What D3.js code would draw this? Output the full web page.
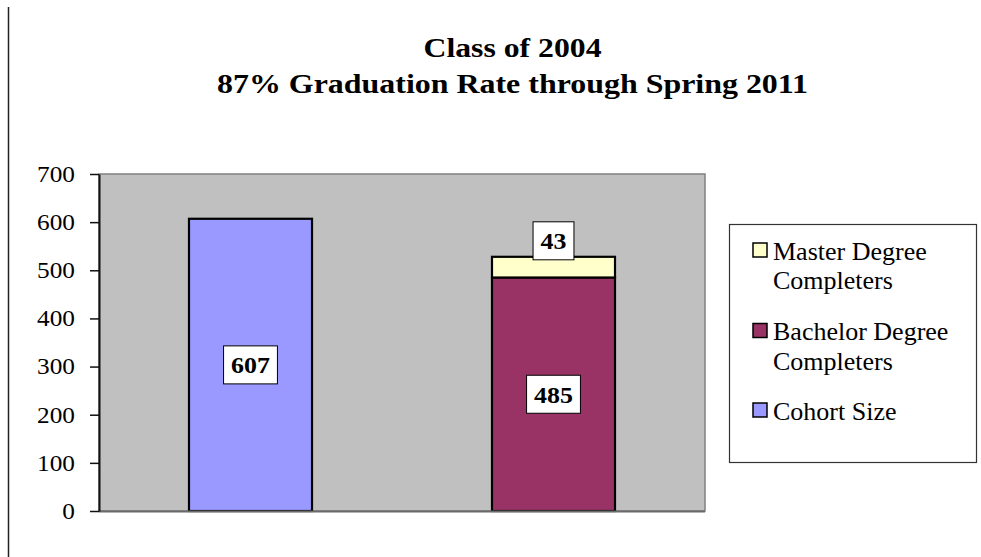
<!DOCTYPE html>
<html>
<head>
<meta charset="utf-8">
<script src="https://cdn.jsdelivr.net/npm/d3@7"></script>
<style>
  html, body { margin: 0; padding: 0; background: #ffffff; }
  svg { display: block; }
  svg text { font-family: "Liberation Serif", "Times New Roman", serif; }
</style>
</head>
<body>
<svg id="chart" width="981" height="557"></svg>
<script>
// ---- data ----
const titleLines = ["Class of 2004", "87% Graduation Rate through Spring 2011"];
const categories = ["Cohort", "Completers"];
const cohortSize = [607, 0];
const bachelorCompleters = [0, 485];
const masterCompleters = [0, 43];
const seriesKeys = ["cohort", "bachelor", "master"];
const seriesNames = ["Cohort Size", "Bachelor Degree Completers", "Master Degree Completers"];
const seriesColors = ["#9999FF", "#993366", "#FFFFCC"];
const legendOrder = ["master", "bachelor", "cohort"];
const legendLines = {
  master: ["Master Degree", "Completers"],
  bachelor: ["Bachelor Degree", "Completers"],
  cohort: ["Cohort Size"]
};
const yTicks = [0, 100, 200, 300, 400, 500, 600, 700];

// ---- build table ----
const table = categories.map((c, i) => ({
  category: c,
  cohort: cohortSize[i],
  bachelor: bachelorCompleters[i],
  master: masterCompleters[i]
}));

const svg = d3.select("#chart");
const serif = "Liberation Serif";

// frame line on the left
svg.append("line")
  .attr("x1", 8.5).attr("x2", 8.5).attr("y1", 7).attr("y2", 557)
  .attr("stroke", "#222").attr("stroke-width", 1.5);

// plot area
const plot = { left: 99, right: 705, top: 174, bottom: 511 };
const x = d3.scaleBand().domain(categories).range([plot.left, plot.right]).padding(0);
const y = d3.scaleLinear().domain([0, 700]).range([plot.bottom, plot.top]);
const barFrac = 0.406;

svg.append("rect")
  .attr("x", plot.left).attr("y", plot.top)
  .attr("width", plot.right - plot.left).attr("height", plot.bottom - plot.top)
  .attr("fill", "#C0C0C0").attr("stroke", "#808080").attr("stroke-width", 1.5);

// stacked series
const stack = d3.stack().keys(seriesKeys);
const stacked = stack(table);
const colorOf = d3.scaleOrdinal().domain(seriesKeys).range(seriesColors);

const bw = x.bandwidth() * barFrac;
const layers = svg.append("g").selectAll("g").data(stacked).join("g")
  .attr("fill", d => colorOf(d.key));
layers.selectAll("rect")
  .data(d => d.filter(p => p[1] - p[0] > 0).map(p => ({ p, key: d.key })))
  .join("rect")
  .attr("x", d => x(d.p.data.category) + (x.bandwidth() - bw) / 2)
  .attr("width", bw)
  .attr("y", d => y(d.p[1]))
  .attr("height", d => y(d.p[0]) - y(d.p[1]))
  .attr("stroke", "#000").attr("stroke-width", 2.2);

// x axis baseline
svg.append("line")
  .attr("x1", plot.left).attr("x2", plot.right)
  .attr("y1", plot.bottom + 0.5).attr("y2", plot.bottom + 0.5)
  .attr("stroke", "#6a6a6a").attr("stroke-width", 1.8);

// y axis
const yAxis = svg.append("g")
  .attr("transform", `translate(${plot.left},0)`)
  .call(d3.axisLeft(y).tickValues(yTicks).tickSize(9).tickPadding(15).tickSizeOuter(0));
yAxis.attr("font-family", null).attr("font-size", null);
yAxis.select(".domain").attr("stroke", "#111").attr("stroke-width", 2);
yAxis.selectAll(".tick line").attr("stroke", "#111").attr("stroke-width", 1.5);
yAxis.selectAll(".tick text")
  .style("font-family", serif).style("font-size", "23px").attr("fill", "#000")
  .each(function () {
    const t = d3.select(this);
    const tx = +t.attr("x");
    t.attr("x", 0).attr("transform", `translate(${tx},0) scale(1.1,1)`);
  });

// data labels
const labelData = [];
stacked.forEach(layer => {
  layer.forEach(p => {
    const v = p[1] - p[0];
    if (v > 0) labelData.push({ key: layer.key, value: v, p });
  });
});
const labels = svg.append("g").selectAll("g").data(labelData).join("g")
  .attr("transform", d => {
    const cx = x(d.p.data.category) + x.bandwidth() / 2;
    let cy = (y(d.p[0]) + y(d.p[1])) / 2;
    if (d.key === "master") cy = y(d.p[1]) - 16;
    return `translate(${cx},${cy})`;
  });
labels.append("text")
  .attr("text-anchor", "middle").attr("dy", "0.35em")
  .style("font-family", serif).style("font-size", "24px").style("font-weight", "bold")
  .attr("fill", "#000")
  .attr("transform", "scale(1.08,1)")
  .text(d => d.value);
labels.insert("rect", "text")
  .each(function () {
    const g = d3.select(this.parentNode);
    const w = g.select("text").node().getBBox().width * 1.08 + 15;
    d3.select(this).attr("x", -w / 2).attr("width", w).attr("y", -19).attr("height", 38);
  })
  .attr("fill", "#fff").attr("stroke", "#000").attr("stroke-width", 1);

// title
const titleBaselines = [57, 93];
const titleWidths = [178, 591];
svg.append("g").selectAll("text").data(titleLines).join("text")
  .attr("x", 512.5).attr("y", (d, i) => titleBaselines[i])
  .attr("text-anchor", "middle")
  .style("font-family", serif).style("font-size", "27px").style("font-weight", "bold")
  .attr("fill", "#000")
  .attr("textLength", (d, i) => titleWidths[i])
  .attr("lengthAdjust", "spacingAndGlyphs")
  .text(d => d);

// legend
const legend = svg.append("g");
legend.append("rect")
  .attr("x", 729.5).attr("y", 224.5).attr("width", 247).attr("height", 238)
  .attr("fill", "#fff").attr("stroke", "#333").attr("stroke-width", 1.2);
const legendTop = { master: 243, bachelor: 323.5, cohort: 403 };
const items = legend.selectAll("g.item").data(legendOrder).join("g").attr("class", "item")
  .attr("transform", k => `translate(753,${legendTop[k]})`);
items.append("rect")
  .attr("x", 0).attr("y", 0).attr("width", 14).attr("height", 14)
  .attr("fill", k => colorOf(k)).attr("stroke", "#000").attr("stroke-width", 1.5);
items.each(function (k) {
  const g = d3.select(this);
  legendLines[k].forEach((line, i) => {
    g.append("text")
      .attr("transform", `translate(20,${16.5 + i * 29.5}) scale(1.04,1)`)
      .style("font-family", serif).style("font-size", "25px")
      .attr("fill", "#000")
      .text(line);
  });
});
</script>
</body>
</html>
